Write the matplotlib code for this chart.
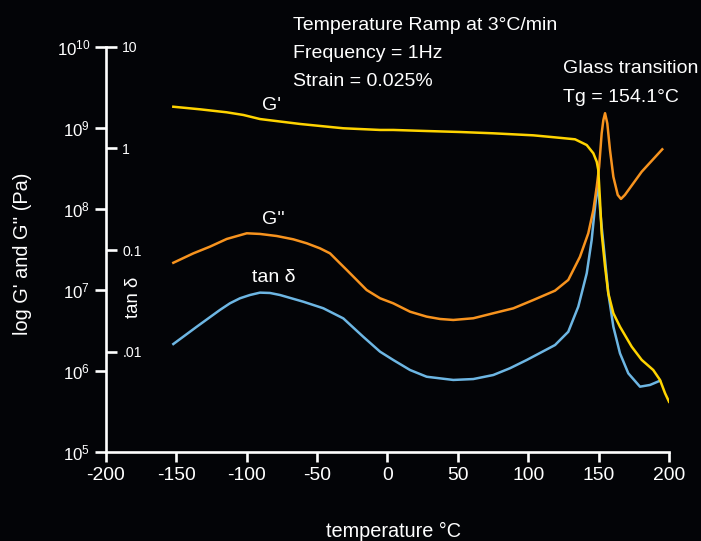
import matplotlib
matplotlib.use('Agg')
import matplotlib.pyplot as plt
from matplotlib import font_manager
from matplotlib.ticker import FixedLocator, FixedFormatter, NullLocator

FONT = 'Liberation Sans'
_names = {f.name for f in font_manager.fontManager.ttflist}
if 'Liberation Sans Narrow' in _names:
    NARROW = 'Liberation Sans Narrow'
    NSCALE = 1.0
else:
    NARROW = FONT
    NSCALE = 0.84

plt.rcParams['font.family'] = [FONT, 'DejaVu Sans']
plt.rcParams['mathtext.fontset'] = 'custom'
plt.rcParams['mathtext.rm'] = NARROW
plt.rcParams['mathtext.it'] = NARROW + ':italic'
plt.rcParams['mathtext.bf'] = NARROW + ':bold'

# ---------------- data ----------------
x_ticks = [-200, -150, -100, -50, 0, 50, 100, 150, 200]
g_ticks = [1e5, 1e6, 1e7, 1e8, 1e9, 1e10]
g_tick_labels = [r'$10^{5}$', r'$10^{6}$', r'$10^{7}$', r'$10^{8}$', r'$10^{9}$', r'$10^{10}$']
tan_ticks = [0.01, 0.1, 1, 10]
tan_tick_labels = ['.01', '0.1', '1', '10']

# G' (storage modulus, Pa)
T_gp = [-152.0, -133.1, -114.1, -102.3, -90.5, -62.1, -31.4, -5.3, 4.1, 27.8,
        51.5, 74.9, 103.5, 118.9, 133.1, 141.4, 146.1, 148.5, 149.6, 150.8,
        152.0, 154.4, 156.7, 160.3, 165.0, 173.3, 180.4, 188.6, 193.4, 197.0, 199.8]
G_p = [1.815e9, 1.687e9, 1.549e9, 1.436e9, 1.279e9, 1.112e9, 9.84e8, 9.38e8, 9.38e8, 9.10e8,
       8.85e8, 8.53e8, 8.05e8, 7.60e8, 7.19e8, 6.11e8, 4.83e8, 3.80e8, 3.01e8, 1.28e8,
       4.97e7, 1.92e7, 9.04e6, 5.12e6, 3.49e6, 1.98e6, 1.36e6, 1.02e6, 7.69e5, 5.26e5, 4.14e5]

# G'' (loss modulus, Pa)
T_gpp = [-152.0, -137.8, -126.0, -114.1, -99.9, -90.5, -78.6, -66.9, -57.3, -47.9,
         -40.8, -34.9, -28.9, -21.9, -14.8, -5.3, 4.1, 16.0, 27.8, 37.3,
         46.7, 60.9, 75.1, 89.3, 103.5, 118.9, 128.3, 136.6, 142.5, 146.1,
         148.5, 150.2, 152.0, 153.2, 154.4, 156.0, 157.9, 160.3, 163.4, 165.7,
         168.5, 180.4, 195.0]
G_pp = [2.15e7, 2.81e7, 3.40e7, 4.23e7, 4.97e7, 4.88e7, 4.60e7, 4.19e7, 3.74e7, 3.24e7,
        2.81e7, 2.22e7, 1.75e7, 1.32e7, 9.91e6, 7.84e6, 6.79e6, 5.35e6, 4.65e6, 4.35e6,
        4.23e6, 4.44e6, 5.12e6, 5.89e6, 7.46e6, 9.73e6, 1.32e7, 2.55e7, 4.97e7, 9.64e7,
        1.87e8, 3.30e8, 8.53e8, 1.24e9, 1.51e9, 1.13e9, 5.31e8, 2.48e8, 1.48e8, 1.32e8,
        1.48e8, 2.86e8, 5.41e8]

# tan delta
T_tan = [-152.0, -135.4, -118.9, -111.8, -104.7, -97.6, -90.5, -83.4, -76.3, -59.8,
         -45.6, -31.4, -17.2, -5.3, 4.1, 16.0, 27.8, 46.7, 60.9, 75.1,
         86.9, 98.8, 118.9, 128.3, 135.4, 141.4, 144.9, 146.8, 149.2, 152.0,
         154.4, 156.7, 160.3, 165.0, 170.9, 179.2, 186.3, 193.4]
tan_delta = [0.01197, 0.0177, 0.0259, 0.0301, 0.0337, 0.0363, 0.0383, 0.0380, 0.0363, 0.0312,
             0.0269, 0.0214, 0.0141, 0.01007, 0.00834, 0.00665, 0.00571, 0.00531, 0.00542, 0.00594,
             0.00692, 0.00834, 0.0117, 0.0158, 0.0279, 0.0593, 0.126, 0.231, 0.455, 0.170,
             0.0802, 0.0378, 0.0177, 0.00970, 0.00617, 0.00456, 0.00474, 0.00522]

# ---------------- style ----------------
BG = '#030407'
YELLOW = '#FFD400'
ORANGE = '#F7931E'
BLUE = '#6DB6E3'
WHITE = '#FFFFFF'

W, H = 701, 541
fig = plt.figure(figsize=(W / 100, H / 100), dpi=100, facecolor=BG)


def fx(px):
    return px / W


def fy(py):
    return 1 - py / H


ax = fig.add_axes([fx(105.7), fy(451.7), (669.3 - 105.7) / W, (451.7 - 46.7) / H])
ax2 = ax.twinx()
ax.set_zorder(2)
ax2.set_zorder(1)
ax.patch.set_visible(False)
ax2.patch.set_visible(False)

ax.set_yscale('log')
ax.set_xlim(-200, 200)
ax.set_ylim(1e5, 1e10)

ax.plot(T_gpp, G_pp, color=ORANGE, lw=1.8, solid_joinstyle='round', zorder=3)
ax.plot(T_gp, G_p, color=YELLOW, lw=1.8, solid_joinstyle='round', zorder=4)

for s in ['top', 'right']:
    ax.spines[s].set_visible(False)
for s in ['left', 'bottom']:
    ax.spines[s].set_color(WHITE)
    ax.spines[s].set_linewidth(1.9)

ax.xaxis.set_major_locator(FixedLocator(x_ticks))
ax.xaxis.set_major_formatter(FixedFormatter([str(v) for v in x_ticks]))
ax.yaxis.set_major_locator(FixedLocator(g_ticks))
ax.yaxis.set_major_formatter(FixedFormatter(g_tick_labels))
ax.yaxis.set_minor_locator(NullLocator())
ax.tick_params(axis='x', direction='out', length=7, width=1.9, color=WHITE,
               labelcolor=WHITE, labelsize=16.5 * NSCALE, pad=4)
ax.tick_params(axis='y', which='major', direction='out', length=8, width=1.9, color=WHITE,
               labelcolor=WHITE, labelsize=14.5 * NSCALE, pad=3)
for lab in ax.get_xticklabels():
    lab.set_family(NARROW)

# tan delta axis, drawn on the left spine with ticks pointing into the plot
ax2.set_yscale('log')
ax2.set_ylim(10 ** -2.98, 10)
ax2.spines['right'].set_position(('axes', 0))
for s in ax2.spines.values():
    s.set_visible(False)
ax2.yaxis.set_major_locator(FixedLocator(tan_ticks))
ax2.yaxis.set_major_formatter(FixedFormatter(tan_tick_labels))
ax2.yaxis.set_minor_locator(NullLocator())
ax2.tick_params(axis='y', which='major', direction='out', length=8, width=1.9, color=WHITE,
                labelcolor=WHITE, labelsize=12 * NSCALE, pad=4)
for lab in ax2.get_yticklabels():
    lab.set_family(NARROW)
ax2.plot(T_tan, tan_delta, color=BLUE, lw=1.8, solid_joinstyle='round')

# ---------------- texts ----------------
fig.text(fx(393), fy(537), 'temperature \u00b0C', color=WHITE, fontsize=17 * NSCALE,
         family=NARROW, ha='center', va='baseline')
fig.text(fx(23), fy(254), "log G' and G'' (Pa)", color=WHITE, fontsize=17 * NSCALE,
         family=NARROW, ha='center', va='center', rotation=90)
fig.text(fx(134), fy(297), 'tan \u03b4', color=WHITE, fontsize=16 * NSCALE,
         family=NARROW, ha='center', va='center', rotation=90)

fig.text(fx(293.3), fy(30), 'Temperature Ramp at 3\u00b0C/min', color=WHITE, fontsize=14,
         ha='left', va='baseline')
fig.text(fx(293.3), fy(58), 'Frequency = 1Hz', color=WHITE, fontsize=14,
         ha='left', va='baseline')
fig.text(fx(293.3), fy(86), 'Strain = 0.025%', color=WHITE, fontsize=14,
         ha='left', va='baseline')
fig.text(fx(562.7), fy(72.7), 'Glass transition', color=WHITE, fontsize=14,
         ha='left', va='baseline')
fig.text(fx(562.7), fy(101.7), 'Tg = 154.1\u00b0C', color=WHITE, fontsize=14,
         ha='left', va='baseline')

fig.text(fx(271.7), fy(105), "G'", color=WHITE, fontsize=14, ha='center', va='center')
fig.text(fx(273), fy(219), "G''", color=WHITE, fontsize=14, ha='center', va='center')
fig.text(fx(273.3), fy(277), 'tan \u03b4', color=WHITE, fontsize=14, ha='center', va='center')

fig.savefig('out.png', dpi=100, facecolor=BG)
